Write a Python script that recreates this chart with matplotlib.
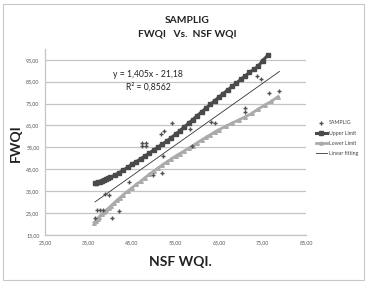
import matplotlib.pyplot as plt
from matplotlib.patches import Rectangle

# measured values (NSF WQI on x, FWQI on y)
sample_x = [36.5, 36.9, 37.6, 38.3, 38.9, 39.6, 40.3, 41.9, 44.2, 47.2, 48.2, 47.2, 48.2,
            49.9, 51.8, 52.2, 51.6, 52.4, 54.2, 58.3, 58.7, 63.2, 64.1, 71.0, 71.0,
            73.8, 74.6, 76.6, 78.9]
sample_y = [22.6, 26.4, 26.4, 26.2, 33.8, 33.4, 22.9, 26.1, 39.3, 57.0, 57.0, 55.6, 55.6,
            42.4, 43.2, 50.9, 61.2, 62.3, 66.3, 63.5, 55.5, 66.5, 66.3, 72.8, 71.3,
            87.6, 86.1, 79.7, 80.9]

upper_x = [36.5, 36.8, 37.2, 37.6, 38.0, 38.5, 39.0, 39.5, 40.0, 41.0, 42.0, 43.0, 44.0,
           45.0, 46.0, 47.0, 48.0, 49.0, 50.0, 51.0, 52.0, 53.0, 54.0, 55.0, 56.0, 57.0,
           58.0, 59.0, 60.0, 61.0, 62.0, 63.0, 64.0, 65.0, 66.0, 67.0, 68.0, 69.0, 70.0,
           71.0, 72.0, 73.0, 74.0, 75.0, 76.3]
upper_y = [38.6, 38.8, 39.1, 39.4, 39.7, 40.0, 40.4, 40.8, 41.3, 42.3, 43.4, 44.6, 45.9,
           47.3, 48.5, 49.8, 51.1, 52.4, 53.8, 55.2, 56.5, 57.9, 59.4, 61.0, 62.6, 64.3,
           66.0, 67.7, 69.5, 71.2, 72.9, 74.6, 76.3, 78.0, 79.6, 81.2, 82.8, 84.4, 86.0,
           87.6, 89.2, 90.6, 92.0, 94.6, 97.2]

lower_x = [36.3, 36.7, 37.1, 37.5, 38.0, 38.5, 39.0, 39.6, 40.2, 40.8, 41.5, 42.2, 43.0,
           44.0, 45.0, 46.0, 47.0, 48.0, 49.0, 50.0, 51.0, 52.0, 53.0, 54.0, 55.0, 56.0,
           57.0, 58.0, 59.0, 60.0, 61.0, 62.0, 63.0, 64.0, 65.0, 66.5, 68.0, 69.5, 71.0,
           72.5, 74.0, 75.5, 77.0, 78.6]
lower_y = [20.7, 21.6, 22.5, 23.4, 24.4, 25.3, 26.2, 27.3, 28.4, 29.5, 30.8, 32.0, 33.4,
           35.0, 36.6, 38.1, 39.6, 41.2, 42.7, 44.2, 45.6, 47.0, 48.4, 49.7, 51.0, 52.2,
           53.4, 54.6, 55.8, 57.1, 58.4, 59.6, 60.8, 62.0, 63.1, 64.6, 66.1, 67.5, 68.9,
           70.5, 72.5, 74.3, 76.0, 78.2]

# trendline as printed on the chart
slope = 1.405
intercept = -21.18
r2 = 0.8562

x_ticks = [25, 35, 45, 55, 65, 75, 85]
y_ticks = [15, 25, 35, 45, 55, 65, 75, 85, 95]

plt.rcParams['font.family'] = ['Lato', 'DejaVu Sans']

fig = plt.figure(figsize=(3.69, 2.84), dpi=100)
fig.patches.append(Rectangle((3 / 369, 4 / 284), 361 / 369, 276 / 284,
                             transform=fig.transFigure, fill=False,
                             edgecolor='#c8c8c8', linewidth=0.8))

ax = fig.add_axes([0.122, 0.1725, 0.7073, 0.6556])
ax.set_xlim(25, 85)
ax.set_ylim(15, 100)

ax.plot(upper_x, upper_y, color='#4a4a4a', lw=2.2, marker='s', ms=2.8,
        mec='#4a4a4a', mfc='#4a4a4a', label='Upper Limit', zorder=3)
ax.plot(lower_x, lower_y, color='#ababab', lw=2.0, marker='^', ms=2.6,
        mec='#ababab', mfc='#ababab', label='Lower Limit', zorder=3)
ax.scatter(sample_x, sample_y, marker='+', s=10, linewidths=1.0,
           color='#505050', label='SAMPLIG', zorder=4)

fx = [min(sample_x), max(sample_x)]
fy = [slope * v + intercept for v in fx]
ax.plot(fx, fy, color='#333333', lw=0.6, label='Linear fitting', zorder=2)

ax.set_xticks(x_ticks)
ax.set_yticks(y_ticks)
ax.set_xticklabels([f'{v:.2f}'.replace('.', ',') for v in x_ticks])
ax.set_yticklabels([f'{v:.2f}'.replace('.', ',') for v in y_ticks])
ax.tick_params(labelsize=3.8, length=0, pad=4, colors='#555555')
ax.yaxis.grid(True, color='#c4c4c4', lw=0.9)
ax.set_axisbelow(True)
for s in ['top', 'right']:
    ax.spines[s].set_visible(False)
for s in ['left', 'bottom']:
    ax.spines[s].set_color('#c4c4c4')
    ax.spines[s].set_linewidth(0.9)

ax.text(48.7, 88.4, f'y = {slope:.3f}x - {abs(intercept):.2f}'.replace('.', ','),
        fontsize=6.2, ha='center', va='center', color='#222222')
ax.text(48.7, 82.5, f'R² = {r2:.4f}'.replace('.', ','),
        fontsize=6.2, ha='center', va='center', color='#222222')

fig.text(0.507, 0.928, 'SAMPLIG', fontsize=7.4, fontweight='bold',
         ha='center', va='center', color='#222222')
fig.text(0.507, 0.882, 'FWQI   Vs.  NSF WQI', fontsize=7.4, fontweight='bold',
         ha='center', va='center', color='#222222')
fig.text(0.488, 0.077, 'NSF WQI.', fontsize=10, fontweight='bold',
         ha='center', va='center', color='#222222')
fig.text(0.043, 0.497, 'FWQI', fontsize=10, fontweight='bold', rotation=90,
         ha='center', va='center', color='#222222')

handles, labels = ax.get_legend_handles_labels()
order = [labels.index(n) for n in ['SAMPLIG', 'Upper Limit', 'Lower Limit', 'Linear fitting']]
leg = ax.legend([handles[i] for i in order], [labels[i] for i in order],
                loc='center left', bbox_to_anchor=(1.02, 0.52), frameon=False,
                fontsize=3.8, handlelength=2.0, handletextpad=0.4,
                labelspacing=1.0, markerscale=0.9)
for t in leg.get_texts():
    t.set_color('#444444')

fig.savefig('out.png', dpi=100)
